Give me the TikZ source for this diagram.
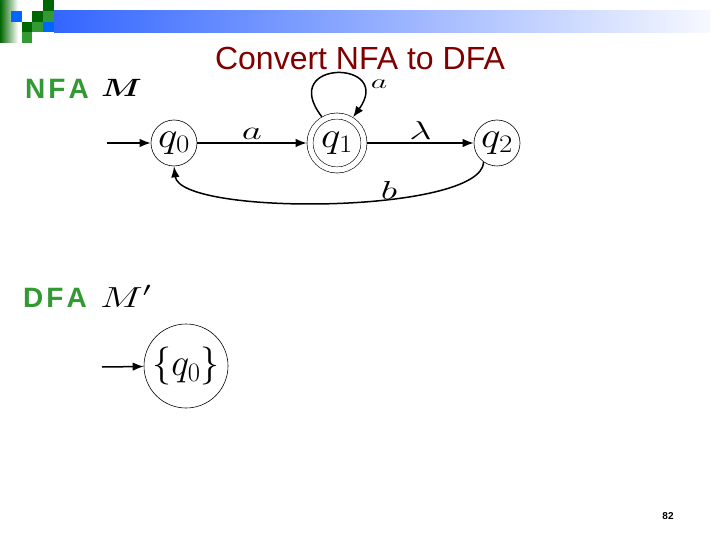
\RequirePackage{fix-cm}
\documentclass[tikz,border=0pt]{standalone}
\usepackage{amsmath}
\usepackage{fontspec}
\setsansfont{Liberation Sans}
\usetikzlibrary{positioning,arrows.meta}
\definecolor{ttlred}{HTML}{800000}
\definecolor{lgrn}{HTML}{339933}
\definecolor{dgrn}{HTML}{006600}
\definecolor{sqblu}{HTML}{0066FF}
\definecolor{barblu}{HTML}{3366FF}
\newcommand{\wmath}[2][1.15]{\scalebox{#1}[1]{$#2$}}
\tikzset{
  ttl/.style   ={font=\sffamily\fontsize{32}{38}\selectfont, text=ttlred, inner sep=0pt},
  kind/.style  ={font=\sffamily\bfseries\fontsize{28}{34}\selectfont, text=lgrn, inner sep=0pt},
  st/.style    ={draw, circle, line width=0.6pt, minimum size=46pt, inner sep=0pt,
                 font=\fontsize{36}{42}\selectfont},
  acc/.style   ={st, minimum size=54pt, double, double distance=5.4pt, outer sep=3.3pt},
  tr/.style    ={-{Latex[length=11pt,width=8.5pt]}, line width=1.5pt},
  lbl/.style   ={font=\fontsize{26}{30}\selectfont, inner sep=0pt},
}

\begin{document}
\begin{tikzpicture}[x=1pt,y=-1pt]
  \useasboundingbox (0,0) rectangle (720,540);

  % ---- banner ----
  \shade[left color=dgrn, right color=white] (0,0) rectangle (18,43);
  \shade[left color=barblu, right color=barblu!4] (54,10.8) rectangle (710,32.4);
  \foreach \c/\r/\col in {1/1/sqblu, 4/0/dgrn, 3/1/dgrn, 4/1/lgrn,
                          2/2/dgrn, 3/2/lgrn, 4/2/sqblu, 2/3/lgrn}
    \fill[\col] (\c*10.8,\r*10.8) rectangle ++(10.8,10.8);

  % ---- title ----
  \node[ttl, anchor=base] (title) at (360,70) {Convert NFA to DFA};

  % ---- NFA ----
  \node[kind, anchor=base west] (nfa) at (25,99) {N\kern3pt F\kern3pt A};
  \node[anchor=base west, inner sep=0pt, font=\fontsize{25}{30}\selectfont] (m)
        at (101,97) {\wmath[1.3]{\boldsymbol{M}}};

  \node[st]  (q0) at (174,143) {\wmath{q_0}};
  \node[acc] (q1) at (337,143) {\wmath{q_1}};
  \node[st]  (q2) at (497,143) {\wmath{q_2}};
  \coordinate (nin) at (107,143);

  \draw[tr] (nin) -- (q0);
  \draw[tr] (q0) -- (q1) node[midway, above=3pt, lbl] {\wmath[1.5]{a}};
  \draw[tr] (q1) -- (q2) node[midway, above=3pt, lbl] {\wmath[1.5]{\lambda}};
  \draw[tr] (q1.120) .. controls +(-45,-58) and +(42,-58) .. (q1.58);
  \node[lbl, font=\fontsize{20}{24}\selectfont] (la) at (379,84) {\wmath[1.6]{a}};
  \draw[tr] (q2.235) .. controls +(-2,52) and +(6,50) .. (q0.270);
  \node[lbl] (lb) at (389,190) {\wmath[1.5]{b}};

  % ---- DFA ----
  \node[kind, anchor=base west] (dfa) at (23,307) {D\kern3pt F\kern3pt A};
  \node[anchor=base west, inner sep=0pt, font=\fontsize{29}{34}\selectfont] (mp)
        at (100,307) {\wmath[1.4]{M'}};

  \node[st, minimum size=84pt, font=\fontsize{38}{44}\selectfont] (d0) at (186,366) {$\{q_0\}$};
  \coordinate (din) at (102,367);
  \draw[tr] (din) -- (d0);

  % ---- page number ----
  \node[font=\sffamily\bfseries\fontsize{10}{12}\selectfont] (pg) at (668,516) {82};
\end{tikzpicture}
\end{document}
